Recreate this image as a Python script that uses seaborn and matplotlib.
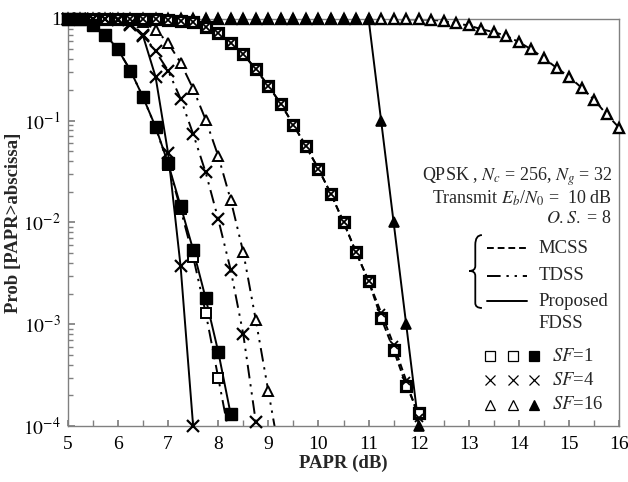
import numpy as np
import pandas as pd
import seaborn as sns
import matplotlib.pyplot as plt
from matplotlib.path import Path
from matplotlib.patches import PathPatch
from matplotlib.ticker import FixedLocator, NullFormatter

# CCDF of PAPR (PAPR in dB, probability)
x_fdss_sf1 = [5.0, 5.25, 5.5, 5.75, 6.0, 6.25, 6.5, 6.75, 7.0, 7.25, 7.5, 7.75, 8.0, 8.25]
p_fdss_sf1 = [1.0, 0.99, 0.87, 0.70, 0.50, 0.31, 0.17, 0.087, 0.038, 0.0145, 0.0054, 0.0018, 5.4e-4, 1.3e-4]

x_tdss_sf1 = [5.0, 5.25, 5.5, 5.75, 6.0, 6.25, 6.5, 6.75, 7.0, 7.25, 7.5, 7.75, 8.0, 8.25]
p_tdss_sf1 = [1.0, 0.99, 0.87, 0.70, 0.50, 0.31, 0.17, 0.086, 0.037, 0.0135, 0.0046, 0.0013, 3.0e-4, 6.8e-5]

x_mcss_sf1 = [5.0, 5.25, 5.5, 5.75, 6.0, 6.25, 6.5, 6.75, 7.0, 7.25, 7.5, 7.75, 8.0, 8.25, 8.5,
              8.75, 9.0, 9.25, 9.5, 9.75, 10.0, 10.25, 10.5, 10.75, 11.0, 11.25, 11.5, 11.75, 12.0]
p_mcss_sf1 = [1.0, 1.0, 1.0, 1.0, 1.0, 1.0, 1.0, 0.99, 0.98, 0.96, 0.93, 0.83, 0.73, 0.58, 0.45,
              0.32, 0.22, 0.146, 0.091, 0.056, 0.0336, 0.019, 0.0101, 0.0051, 0.00266, 0.00115, 5.6e-4, 2.5e-4, 1.35e-4]

x_mcss_sf4 = x_mcss_sf1
p_mcss_sf4 = [1.0, 1.0, 1.0, 1.0, 1.0, 1.0, 1.0, 0.99, 0.98, 0.96, 0.93, 0.83, 0.73, 0.58, 0.45,
              0.32, 0.22, 0.146, 0.091, 0.056, 0.0336, 0.019, 0.0101, 0.0051, 0.00266, 0.0013, 6.3e-4, 2.8e-4, 1.2e-4]

x_mcss_sf16 = [5.0, 5.25, 5.5, 5.75, 6.0, 6.25, 6.5, 6.75, 7.0, 7.25, 7.5, 7.75, 8.0, 8.25, 8.5,
               8.75, 9.0, 9.25, 9.5, 9.75, 10.0, 10.25, 10.5, 10.75, 11.0, 11.25, 11.5, 11.75, 12.0,
               12.25, 12.5, 12.75, 13.0, 13.25, 13.5, 13.75, 14.0, 14.25, 14.5, 14.75, 15.0, 15.25,
               15.5, 15.75, 16.0]
p_mcss_sf16 = [1.0] * 25 + [0.995, 0.99, 0.99, 0.985, 0.98, 0.95, 0.90, 0.86, 0.79, 0.74, 0.68, 0.59,
                            0.50, 0.41, 0.33, 0.27, 0.21, 0.16, 0.115, 0.085]

x_fdss_sf16 = x_mcss_sf1
p_fdss_sf16 = [1.0] * 25 + [0.1, 0.01, 0.001, 1e-4]

x_tdss_sf4 = [5.0, 5.25, 5.5, 5.75, 6.0, 6.25, 6.5, 6.75, 7.0, 7.25, 7.5, 7.75, 8.0, 8.25, 8.5, 8.75]
p_tdss_sf4 = [1.0, 1.0, 1.0, 1.0, 0.99, 0.86, 0.70, 0.48, 0.31, 0.164, 0.074, 0.031, 0.0108, 0.0034, 8e-4, 1.1e-4]

x_fdss_sf4 = [5.0, 5.25, 5.5, 5.75, 6.0, 6.25, 6.5, 6.75, 7.0, 7.25, 7.5]
p_fdss_sf4 = [1.0, 1.0, 1.0, 1.0, 0.98, 0.88, 0.68, 0.27, 0.048, 0.0037, 1e-4]

x_tdss_sf16 = [5.0, 5.25, 5.5, 5.75, 6.0, 6.25, 6.5, 6.75, 7.0, 7.25, 7.5, 7.75, 8.0, 8.25, 8.5, 8.75, 9.0, 9.25]
p_tdss_sf16 = [1.0, 1.0, 1.0, 1.0, 1.0, 0.98, 0.93, 0.78, 0.58, 0.37, 0.205, 0.102, 0.045, 0.0166,
               0.0051, 0.0011, 2.2e-4, 4.5e-5]

x_ticks = [5, 6, 7, 8, 9, 10, 11, 12, 13, 14, 15, 16]
y_ticks = [1e-4, 1e-3, 1e-2, 1e-1, 1]
y_ticklabels = [r'$10^{-4}$', r'$10^{-3}$', r'$10^{-2}$', r'$10^{-1}$', '1']

sns.set_theme(style='white')
plt.rcParams['font.family'] = ['Liberation Serif', 'DejaVu Serif']
plt.rcParams['mathtext.fontset'] = 'stix'

DASH = (0, (3.5, 2))
DDOT = (0, (7, 3, 1.2, 3, 1.2, 3))
SOLID = '-'

fig = plt.figure(figsize=(6.28, 4.82), dpi=100)
ax = fig.add_axes([0.108, 0.116, 0.878, 0.845])
ax.set_yscale('log')

# (x, p, linestyle, marker, facecolor, size, edge width)
curves = [
    (x_mcss_sf16, p_mcss_sf16, DASH, '^', 'white', 7.5, 1.7),
    (x_fdss_sf16, p_fdss_sf16, SOLID, '^', 'black', 7.5, 1.2),
    (x_tdss_sf16, p_tdss_sf16, DDOT, '^', 'white', 7.5, 1.4),
    (x_tdss_sf4, p_tdss_sf4, DDOT, 'x', 'none', 8, 1.6),
    (x_mcss_sf1, p_mcss_sf1, DASH, 's', 'white', 6.5, 2.3),
    (x_mcss_sf4, p_mcss_sf4, DASH, 'x', 'none', 5.5, 1.3),
    (x_tdss_sf1, p_tdss_sf1, DDOT, 's', 'white', 7.5, 1.4),
    (x_fdss_sf4, p_fdss_sf4, SOLID, 'x', 'none', 8, 1.6),
    (x_fdss_sf1, p_fdss_sf1, SOLID, 's', 'black', 8.5, 1.0),
]

for i, (xs, ps, ls, mk, fc, ms, mew) in enumerate(curves):
    df = pd.DataFrame({'papr': xs, 'prob': ps})
    sns.lineplot(data=df, x='papr', y='prob', ax=ax, color='black',
                 linestyle=ls, linewidth=1.4, zorder=2 + i * 0.01)
    vis = df[df['prob'] >= 1e-4]
    ax.plot(vis['papr'], vis['prob'], linestyle='none', marker=mk, markersize=ms,
            markerfacecolor=fc, markeredgecolor='black', markeredgewidth=mew,
            clip_on=False, zorder=3 + i * 0.01)

ax.set_xlim(5, 16)
ax.set_ylim(1e-4, 1)
ax.set_xticks(x_ticks)
ax.xaxis.set_minor_locator(FixedLocator(np.arange(5.5, 16, 1.0)))
ax.set_yticks(y_ticks)
ax.set_yticklabels(y_ticklabels)
ax.yaxis.set_minor_formatter(NullFormatter())

for sp in ax.spines.values():
    sp.set_color('#808080')
    sp.set_linewidth(1.0)
ax.tick_params(axis='both', which='both', direction='in', colors='#808080',
               labelcolor='black', labelsize=14)
ax.tick_params(axis='x', which='both', length=4, pad=7, bottom=True, top=False)
ax.tick_params(axis='y', which='major', length=5, pad=5, left=True, right=False)
ax.tick_params(axis='y', which='minor', length=3.5, left=True, right=False)

ax.set_xlabel('PAPR (dB)', fontsize=13.5, fontweight='bold', labelpad=1)
ax.set_ylabel('Prob [PAPR>abscissa]', fontsize=13.5, fontweight='bold', labelpad=1)

# parameter text
tkw = dict(transform=ax.transAxes, ha='right', va='center', fontsize=13)
ax.text(0.987, 0.612, r'QPSK , $N_c$ = 256, $N_g$ = 32', **tkw)
ax.text(0.987, 0.560, r'Transmit $E_b$/$N_0$ =  10 dB', **tkw)
ax.text(0.987, 0.509, r'$O.S.$ = 8', **tkw)

# legend: brace, line samples, scheme names
verts = [(0.751, 0.469), (0.739, 0.469), (0.739, 0.445),
         (0.739, 0.393),
         (0.739, 0.381), (0.728, 0.381),
         (0.739, 0.381), (0.739, 0.369),
         (0.739, 0.302),
         (0.739, 0.290), (0.751, 0.290)]
codes = [Path.MOVETO, Path.CURVE3, Path.CURVE3, Path.LINETO, Path.CURVE3, Path.CURVE3,
         Path.CURVE3, Path.CURVE3, Path.LINETO, Path.CURVE3, Path.CURVE3]
ax.add_patch(PathPatch(Path(verts, codes), transform=ax.transAxes, fill=False,
                       edgecolor='black', linewidth=1.3, clip_on=False))

lkw = dict(transform=ax.transAxes, ha='left', va='center', fontsize=13.5)
for fy, ls, name in [(0.437, DASH, 'MCSS'), (0.369, DDOT, 'TDSS'), (0.307, SOLID, 'Proposed')]:
    ax.plot([0.760, 0.833], [fy, fy], transform=ax.transAxes, color='black',
            linestyle=ls, linewidth=1.4, clip_on=False)
    ax.text(0.853, fy, name, **lkw)
ax.text(0.853, 0.253, 'FDSS', **lkw)

# legend: marker table
cols = [0.766, 0.808, 0.846]
rows = [(0.172, ['s', 's', 's'], ['white', 'white', 'black'], r'$SF$=1'),
        (0.113, ['x', 'x', 'x'], ['none', 'none', 'none'], r'$SF$=4'),
        (0.052, ['^', '^', '^'], ['white', 'white', 'black'], r'$SF$=16')]
for fy, mks, fcs, label in rows:
    for fx, mk, fc in zip(cols, mks, fcs):
        ax.plot([fx], [fy], transform=ax.transAxes, marker=mk, markersize=7,
                markerfacecolor=fc, markeredgecolor='black', markeredgewidth=0.9,
                linestyle='none', clip_on=False)
    ax.text(0.878, fy, label, **lkw)

plt.savefig('out.png', dpi=100)
